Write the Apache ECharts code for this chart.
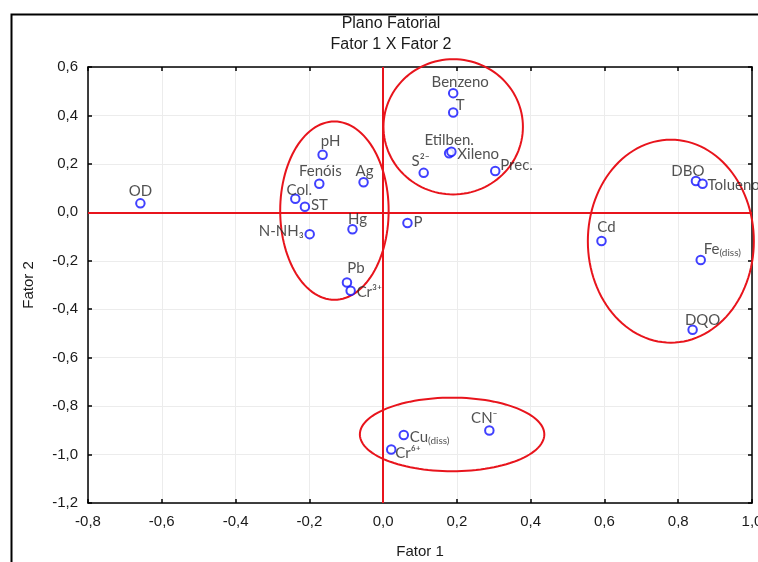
<!DOCTYPE html>
<html>
<head>
<meta charset="utf-8">
<script src="https://cdn.jsdelivr.net/npm/echarts@6/dist/echarts.min.js"></script>
<style>html,body{margin:0;padding:0;background:#fff}#c{width:758px;height:562px}</style>
</head>
<body>
<div id="c"></div>
<script>
// ---- data ----
var names = ['OD','pH','Fenóis','Ag','Col.','ST','N-NH₃','Hg','P','Pb','Cr³⁺',
  'Benzeno','T','Etilben.','Xileno','S²⁻','Prec.',
  'DBO','Tolueno','Cd','Fe(diss)','DQO',
  'CN⁻','Cu(diss)','Cr⁶⁺'];
var fator1 = [-0.658,-0.164,-0.173,-0.053,-0.238,-0.212,-0.199,-0.083,0.066,-0.098,-0.088,
  0.190,0.190,0.179,0.185,0.110,0.304,
  0.848,0.866,0.592,0.861,0.839,
  0.288,0.056,0.022];
var fator2 = [0.037,0.238,0.118,0.124,0.056,0.023,-0.090,-0.070,-0.044,-0.290,-0.324,
  0.492,0.412,0.244,0.250,0.163,0.171,
  0.129,0.118,-0.118,-0.197,-0.485,
  -0.901,-0.919,-0.979];
var xTicks = [-0.8,-0.6,-0.4,-0.2,0.0,0.2,0.4,0.6,0.8,1.0];
var yTicks = [-1.2,-1.0,-0.8,-0.6,-0.4,-0.2,0.0,0.2,0.4,0.6];
// group ellipses (centre and half-axes, in factor units)
var ellCx = [-0.132, 0.190, 0.780, 0.187];
var ellCy = [0.007, 0.353, -0.119, -0.917];
var ellRx = [0.147, 0.189, 0.225, 0.250];
var ellRy = [0.368, 0.279, 0.419, 0.152];

// ---- label placement (style): [align, dx, dy] relative to the point centre ----
var labelPlace = {
  'OD':['center',0,-12], 'pH':['center',8,-14], 'Fenóis':['center',1,-13], 'Ag':['center',1,-11],
  'Col.':['center',4,-9], 'ST':['left',6,-2], 'N-NH₃':['right',-6,-3], 'Hg':['center',5,-10],
  'P':['left',6,-1], 'Pb':['center',9,-14], 'Cr³⁺':['left',6,1],
  'Benzeno':['center',7,-11], 'T':['center',7,-7], 'Etilben.':['center',0,-13], 'Xileno':['left',6,2],
  'S²⁻':['center',-3,-12], 'Prec.':['left',5,-6],
  'DBO':['center',-8,-10], 'Tolueno':['left',5,1], 'Cd':['center',5,-14], 'Fe(diss)':['left',3,-11],
  'DQO':['center',10,-10], 'CN⁻':['center',-5,-12], 'Cu(diss)':['left',6,2], 'Cr⁶⁺':['left',4,4]
};

function fmt(v){ return v.toFixed(1).replace('.', ','); }

var pts = names.map(function(n,i){
  var p = labelPlace[n];
  return { name: n, value: [fator1[i], fator2[i]], label: { align: p[0] } };
});

var ellData = ellCx.map(function(c,i){ return [ellCx[i], ellCy[i], ellRx[i], ellRy[i]]; });

var chart = echarts.init(document.getElementById('c'), null, {renderer:'canvas'});
var FONT = 'Liberation Sans, Arial, sans-serif';
var LFONT = 'Lato, sans-serif';
var tickFont = {fontFamily:FONT, fontSize:15, color:'#1a1a1a'};
var frameAxis = {
  axisLine:{show:true, onZero:false, lineStyle:{color:'#000', width:1.5}},
  axisTick:{show:true, inside:true, length:4, lineStyle:{color:'#000', width:1.5}},
  axisLabel:{show:false}, splitLine:{show:false}
};
chart.setOption({
  animation:false,
  backgroundColor:'#fff',
  graphic:[
    {type:'rect', left:9, top:12, shape:{width:800, height:600}, style:{fill:'none', stroke:'#000', lineWidth:2}, silent:true},
    {type:'text', x:391, y:24, style:{text:'Plano Fatorial', font:'16px ' + FONT, fill:'#1a1a1a', align:'center', verticalAlign:'middle'}, silent:true},
    {type:'text', x:391, y:45, style:{text:'Fator 1 X Fator 2', font:'16px ' + FONT, fill:'#1a1a1a', align:'center', verticalAlign:'middle'}, silent:true}
  ],
  grid:{left:88, right:6, top:67, bottom:59, outerBoundsMode:'none', containLabel:false},
  xAxis:[{
    type:'value', min:-0.8, max:1.0, interval:0.2,
    name:'Fator 1', nameLocation:'middle', nameGap:41,
    nameTextStyle:{fontFamily:FONT, fontSize:15, color:'#1a1a1a'},
    axisLine:{show:true, onZero:false, lineStyle:{color:'#000', width:1.5}},
    axisTick:{show:true, inside:true, length:4, lineStyle:{color:'#000', width:1.5}},
    axisLabel:Object.assign({margin:11, formatter:function(v){ return fmt(v); }}, tickFont),
    splitLine:{show:true, lineStyle:{color:'#ececec', width:1}}
  }, Object.assign({type:'value', position:'top', min:-0.8, max:1.0, interval:0.2}, frameAxis)],
  yAxis:[{
    type:'value', min:-1.2, max:0.6, interval:0.2,
    name:'Fator 2', nameLocation:'middle', nameGap:52,
    nameTextStyle:{fontFamily:FONT, fontSize:15, color:'#1a1a1a'},
    axisLine:{show:true, onZero:false, lineStyle:{color:'#000', width:1.5}},
    axisTick:{show:true, inside:true, length:4, lineStyle:{color:'#000', width:1.5}},
    axisLabel:Object.assign({margin:10, formatter:function(v){ return fmt(v); }}, tickFont),
    splitLine:{show:true, lineStyle:{color:'#ececec', width:1}}
  }, Object.assign({type:'value', position:'right', min:-1.2, max:0.6, interval:0.2}, frameAxis)],
  series:[
    {
      type:'custom', coordinateSystem:'cartesian2d', silent:true, z:3,
      data: ellData,
      clip:false,
      renderItem:function(params, api){
        var cx = api.value(0), cy = api.value(1), rx = api.value(2), ry = api.value(3);
        var pts = [];
        for (var k=0;k<120;k++){
          var a = k/120*Math.PI*2;
          pts.push(api.coord([cx + rx*Math.cos(a), cy + ry*Math.sin(a)]));
        }
        return {type:'polygon', shape:{points:pts}, style:{fill:'none', stroke:'#e8141c', lineWidth:2}};
      }
    },
    {
      type:'scatter', z:5,
      symbol:'emptyCircle', symbolSize:8.5,
      itemStyle:{color:'#1010ff', borderColor:'#1010ff', borderWidth:2},
      label:{
        show:true, position:'inside', verticalAlign:'middle',
        color:'#262626', fontFamily:LFONT, fontSize:15,
        formatter:function(p){
          var m = p.name.match(/^(.*)\((diss)\)$/);
          if (m) return '{m|' + m[1] + '}{s|(' + m[2] + ')}';
          return p.name;
        },
        rich:{
          m:{fontFamily:LFONT, fontSize:15, color:'#262626', lineHeight:17, verticalAlign:'middle'},
          s:{fontFamily:LFONT, fontSize:10, color:'#262626', lineHeight:17, verticalAlign:'bottom', padding:[6,0,0,0]}
        }
      },
      labelLayout:function(params){
        var p = labelPlace[names[params.dataIndex]];
        return {dx:p[1], dy:p[2], hideOverlap:false};
      },
      data: pts,
      markLine:{
        silent:true, symbol:['none','none'], label:{show:false},
        lineStyle:{color:'#e8141c', width:2, type:'solid'},
        data:[{xAxis:0},{yAxis:0}]
      }
    }
  ]
});
</script>
</body>
</html>
